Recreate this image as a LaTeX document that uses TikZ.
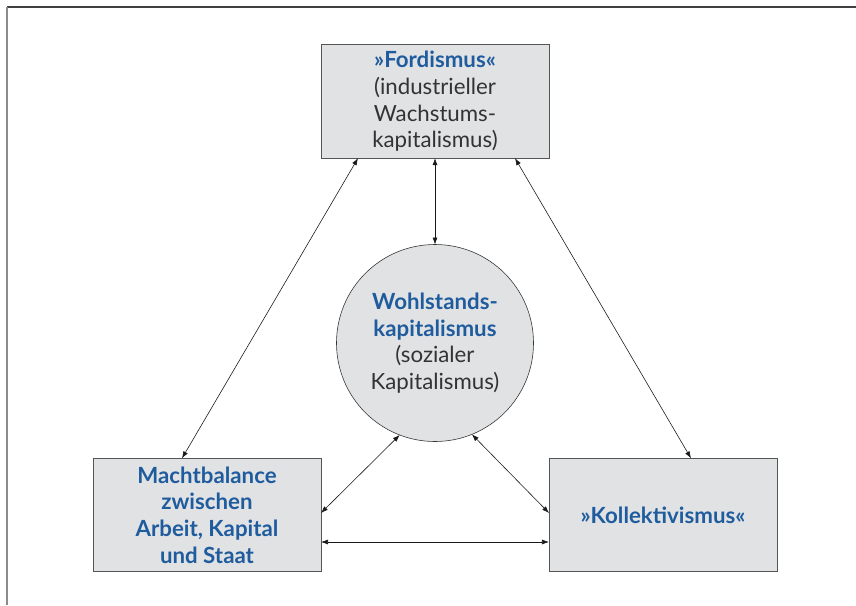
\documentclass[tikz,border=0pt]{standalone}
\usepackage{fontspec}
\setmainfont{Lato}
\usetikzlibrary{arrows.meta,calc}

\definecolor{boxgray}{HTML}{E1E2E4}
\definecolor{framegray}{HTML}{555555}
\definecolor{titleblue}{HTML}{1F5C9E}
\definecolor{textgray}{HTML}{333333}

\tikzset{
    every node/.style={font=\fontsize{19}{22.8}\selectfont, text=textgray, align=center, outer sep=0pt},
    kasten/.style={draw=framegray, fill=boxgray, line width=0.8pt, minimum width=6.84cm, minimum height=3.40cm},
    kreis/.style={circle, draw=black!80, fill=boxgray, line width=0.5pt, minimum size=5.91cm},
    titel/.style={text=titleblue, font=\fontsize{19}{22.8}\selectfont\bfseries},
    pfeil/.style={{Latex[length=2.1mm,width=1.5mm]}-{Latex[length=2.1mm,width=1.5mm]}, line width=0.5pt, black!90},
}

\begin{document}
\begin{tikzpicture}[x=0.03cm, y=-0.03cm]
\useasboundingbox (0,0) rectangle (856,605);
\draw[line width=1.3pt, black!75] (7,7)--(856,7);
\draw[line width=1.5pt, black!45] (7,7)--(7,605);

\node[kasten] (ford) at (435,101.5) {\textcolor{titleblue}{\bfseries »Fordismus«}\\(industrieller\\Wachstums-\\kapitalismus)};
\node[kreis] (wohl) at (435,343) {\textcolor{titleblue}{\bfseries Wohlstands-}\\\textcolor{titleblue}{\bfseries kapitalismus}\\(sozialer\\Kapitalismus)};
\node[kasten, titel] (mach) at (207,515) {Machtbalance\\zwischen\\Arbeit, Kapital\\und Staat};
\node[kasten, titel] (koll) at (663,515) {»Kollektivismus«};

\draw[pfeil] ($(ford.south west)+(37,0)$)--($(mach.north west)+(89,0)$);
\draw[pfeil] (ford.south)--(wohl.north);
\draw[pfeil] ($(ford.south east)+(-34,0)$)--($(koll.north west)+(142,0)$);
\draw[pfeil] (wohl.-111)--($(mach.east)+(0,-2)$);
\draw[pfeil] (wohl.-68)--($(koll.west)+(0,-2)$);
\draw[pfeil] ($(mach.east)+(0,27)$)--($(koll.west)+(0,27)$);
\end{tikzpicture}
\end{document}
